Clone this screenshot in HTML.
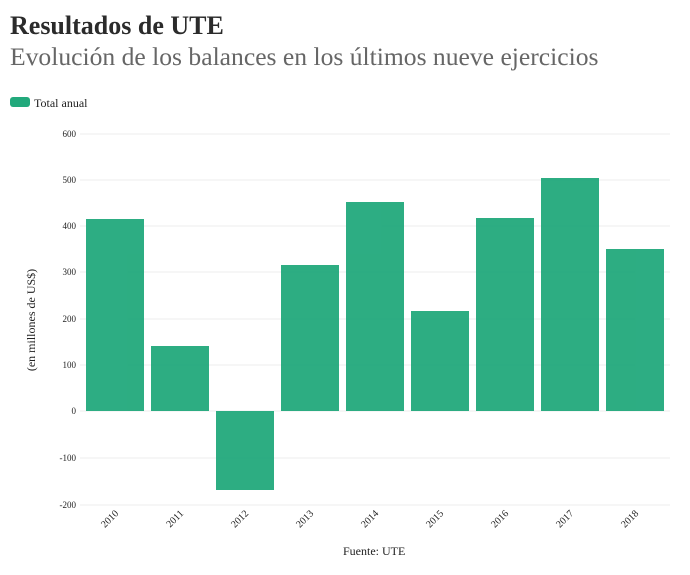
<!DOCTYPE html>
<html><head><meta charset="utf-8"><style>
body{margin:0;background:#fff;}
svg{display:block;font-family:"Liberation Serif",serif;}
</style></head><body>
<svg width="690" height="575" viewBox="0 0 690 575">
<text x="10" y="34" font-size="26" font-weight="bold" fill="#2b2b2b">Resultados de UTE</text>
<text x="10" y="65" font-size="25.6" fill="#666">Evolución de los balances en los últimos nueve ejercicios</text>
<rect x="10" y="97" width="20" height="10" rx="3" fill="#22a97c"/>
<text x="34" y="107" font-size="12" fill="#222">Total anual</text>
<g stroke="#eee" stroke-width="1">
<line x1="80" x2="670" y1="134" y2="134"/><line x1="80" x2="670" y1="180" y2="180"/>
<line x1="80" x2="670" y1="226" y2="226"/><line x1="80" x2="670" y1="272" y2="272"/>
<line x1="80" x2="670" y1="319" y2="319"/><line x1="80" x2="670" y1="365" y2="365"/>
<line x1="80" x2="670" y1="411" y2="411"/><line x1="80" x2="670" y1="458" y2="458"/>
<line x1="80" x2="670" y1="505" y2="505"/>
</g>
<g font-size="9" fill="#222" text-anchor="end">
<text x="76" y="137">600</text><text x="76" y="183">500</text><text x="76" y="229">400</text>
<text x="76" y="275">300</text><text x="76" y="322">200</text><text x="76" y="368">100</text>
<text x="76" y="414">0</text><text x="76" y="461">-100</text><text x="76" y="508">-200</text>
</g>
<text transform="translate(35,320) rotate(-90)" font-size="12" text-anchor="middle" fill="#222">(en millones de US$)</text>
<g fill="#22a97c" opacity="0.95">
<rect x="86" y="219" width="58" height="192"/>
<rect x="151" y="346" width="58" height="65"/>
<rect x="216" y="411" width="58" height="79"/>
<rect x="281" y="265" width="58" height="146"/>
<rect x="346" y="202" width="58" height="209"/>
<rect x="411" y="311" width="58" height="100"/>
<rect x="476" y="218" width="58" height="193"/>
<rect x="541" y="178" width="58" height="233"/>
<rect x="606" y="249" width="58" height="162"/>
</g>
<g font-size="10" fill="#222" text-anchor="end">
<text transform="translate(119,514) rotate(-45)">2010</text>
<text transform="translate(184,514) rotate(-45)">2011</text>
<text transform="translate(249,514) rotate(-45)">2012</text>
<text transform="translate(314,514) rotate(-45)">2013</text>
<text transform="translate(379,514) rotate(-45)">2014</text>
<text transform="translate(444,514) rotate(-45)">2015</text>
<text transform="translate(509,514) rotate(-45)">2016</text>
<text transform="translate(574,514) rotate(-45)">2017</text>
<text transform="translate(639,514) rotate(-45)">2018</text>
</g>
<text x="343" y="555" font-size="12" fill="#222">Fuente: UTE</text>
</svg>
</body></html>
